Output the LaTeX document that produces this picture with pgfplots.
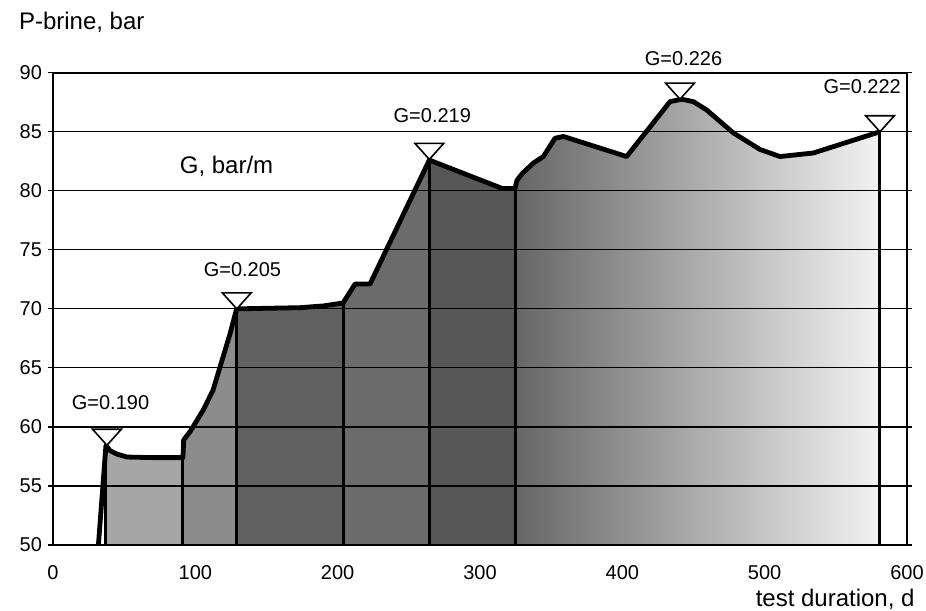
\documentclass[border=0pt]{standalone}
\usepackage{fontspec}
\setmainfont{Liberation Sans}
\usepackage{pgfplots}
\pgfplotsset{compat=1.18}

% inverted triangle, apex on the data point
\pgfdeclareplotmark{gtri}{%
  \pgfpathmoveto{\pgfpointorigin}%
  \pgfpathlineto{\pgfpoint{-7.2pt}{8pt}}%
  \pgfpathlineto{\pgfpoint{7.2pt}{8pt}}%
  \pgfpathclose
  \pgfusepathqfillstroke}

\begin{document}
\begin{tikzpicture}
\begin{axis}[
  scale only axis, width=427pt, height=236.15pt,
  xmin=0, xmax=600, ymin=50, ymax=90,
  xtick={0,100,...,600}, ytick={50,55,...,90},
  ymajorgrids, grid style={black, line width=0.6pt},
  axis line style={line width=0.9pt},
  tick align=outside, major tick length=2.5pt,
  xtick style={draw=none}, ytick style={black, line width=0.6pt},
  tick label style={font=\fontsize{10}{12}\selectfont},
  /pgf/number format/assume math mode=true,
  xticklabel style={yshift=-4pt},
  yticklabel style={xshift=0.5pt},
  axis on top, clip mode=individual,
  every axis y label/.style={at={(axis description cs:0,1)}, anchor=west,
    xshift=-20.5pt, yshift=25pt, font=\fontsize{12}{14}\selectfont},
  every axis x label/.style={at={(axis description cs:1,0)}, anchor=east,
    xshift=7.3pt, yshift=-27.3pt, font=\fontsize{12}{14}\selectfont},
  ylabel={P-brine, bar}, xlabel={test duration, d},
]
% shaded areas between the vertical lines
\addplot[draw=none, fill=black!35] coordinates {(37.2,50) (37.2,58.45) (40,58.0) (45,57.7) (52,57.45) (70,57.4) (91.3,57.4) (91.3,50)} --cycle;
\addplot[draw=none, fill=black!45] coordinates {(91.3,50) (91.3,57.4) (91.8,58.9) (96.3,59.6) (105.4,61.4) (112.4,63.1) (119.4,65.9) (124.4,67.9) (129,70.0) (129,50)} --cycle;
\addplot[draw=none, fill=black!62] coordinates {(129,50) (129,70.0) (173.5,70.1) (190,70.25) (203.8,70.5) (203.8,50)} --cycle;
\addplot[draw=none, fill=black!58] coordinates {(203.8,50) (203.8,70.5) (212.2,72.1) (222.7,72.1) (264.4,82.6) (264.4,50)} --cycle;
\addplot[draw=none, fill=black!66] coordinates {(264.4,50) (264.4,82.6) (315.5,80.2) (324.6,80.2) (324.6,50)} --cycle;
\addplot[draw=none, left color=black!60, middle color=black!28, right color=black!5] coordinates {(324.6,50) (324.6,80.2) (326,80.9) (330,81.5) (337.5,82.35) (344.5,82.9) (352.7,84.45) (358.6,84.6) (403,82.9) (433.5,87.55) (441.7,87.75) (449.9,87.55) (459.3,86.84) (478,84.9) (496.7,83.5) (510.8,82.9) (534.2,83.2) (581,85.0) (581,50)} --cycle;

% vertical lines
\addplot[ycomb, black, line width=1.5pt, mark=none] coordinates {(37.2,58.45) (91.3,57.4) (129,70.0) (203.8,70.5) (264.4,82.6) (324.6,80.2) (581,85.0)};

% pressure curve
\addplot[black, line width=2.4pt, line join=round, mark=none] coordinates {
  (31.9,50) (37.2,58.45) (40,58.0) (45,57.7) (52,57.45) (70,57.4) (91.3,57.4)
  (91.8,58.9) (96.3,59.6) (105.4,61.4) (112.4,63.1) (119.4,65.9) (124.4,67.9) (129,70.0)
  (173.5,70.1) (190,70.25) (203.8,70.5) (212.2,72.1) (222.7,72.1) (264.4,82.6)
  (315.5,80.2) (324.6,80.2) (326,80.9) (330,81.5) (337.5,82.35) (344.5,82.9)
  (352.7,84.45) (358.6,84.6) (403,82.9) (433.5,87.55) (441.7,87.75) (449.9,87.55)
  (459.3,86.84) (478,84.9) (496.7,83.5) (510.8,82.9) (534.2,83.2) (581,85.0)};

% gradient markers
\addplot[only marks, mark=gtri, mark options={fill=white, draw=black, line width=0.8pt}] coordinates {(37.9,58.45) (129.1,70.0) (264.4,82.66) (440.5,87.76) (581,85.0)};

\node[font=\fontsize{10}{12}\selectfont] at (axis cs:40.4,62.05) {G=0.190};
\node[font=\fontsize{10}{12}\selectfont] at (axis cs:133.1,73.3) {G=0.205};
\node[font=\fontsize{10}{12}\selectfont] at (axis cs:266.5,86.4) {G=0.219};
\node[font=\fontsize{10}{12}\selectfont] at (axis cs:443,91.2) {G=0.226};
\node[font=\fontsize{10}{12}\selectfont] at (axis cs:568.5,88.8) {G=0.222};
\node[font=\fontsize{12}{14}\selectfont] at (axis cs:121.9,82.1) {G, bar/m};
\end{axis}
\pgfresetboundingbox
\path[use as bounding box] ([shift={(-26.5pt,-32.5pt)}]current axis.south west) rectangle ([shift={(9.5pt,36.35pt)}]current axis.north east);
\end{tikzpicture}
\end{document}
